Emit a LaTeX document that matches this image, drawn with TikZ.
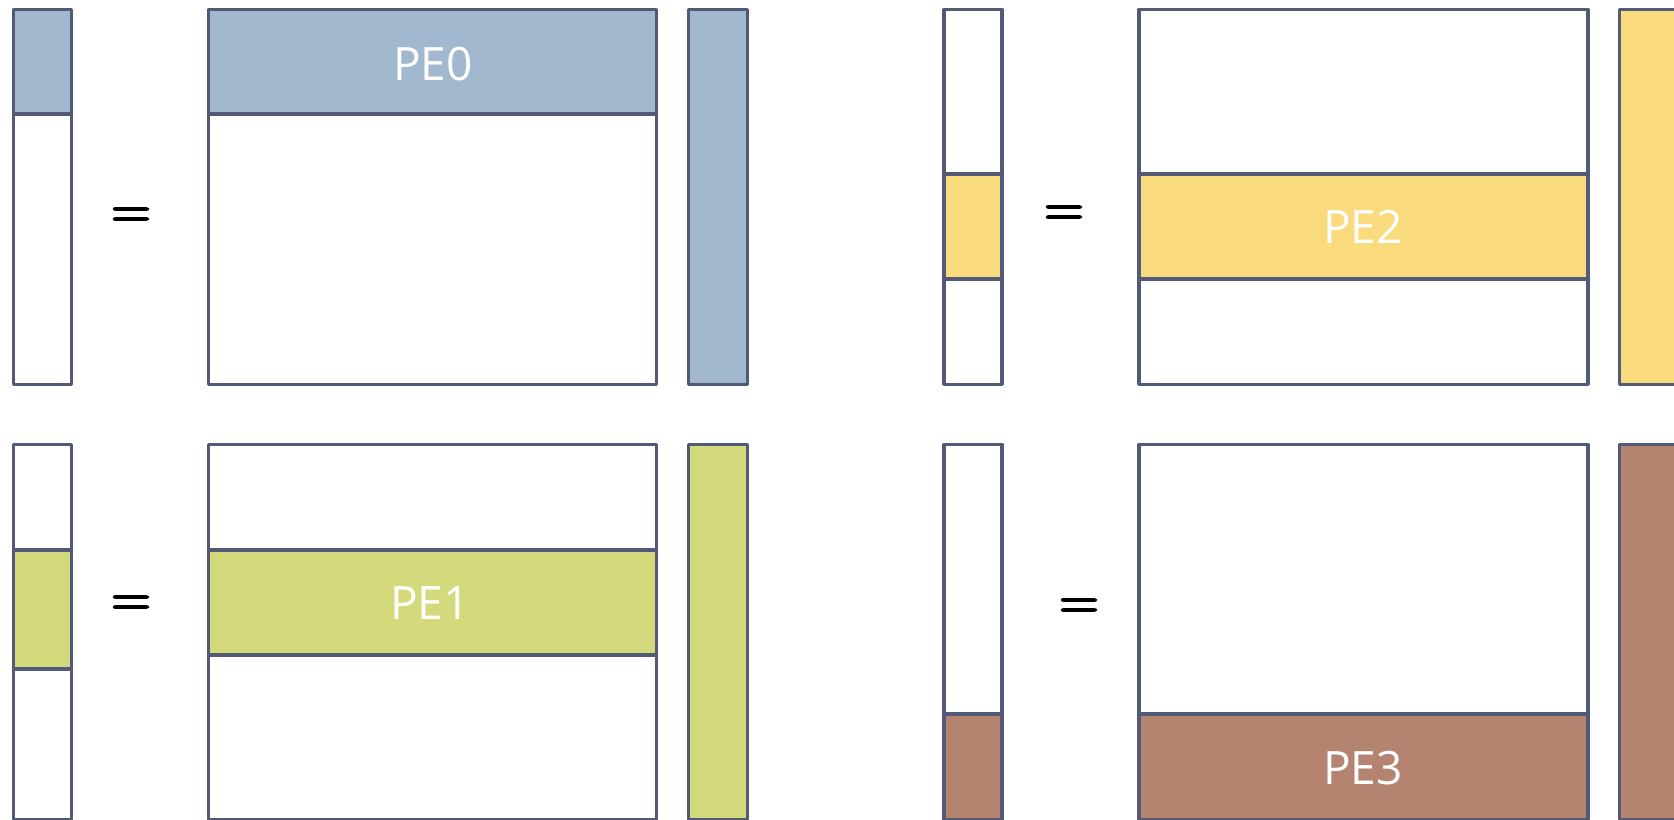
\documentclass[tikz,border=0pt]{standalone}
\usepackage{fontspec}
\newfontfamily\labelfont{Open Sans}
\newfontfamily\eqfont{lmroman10-regular.otf}[FakeBold=3]
\definecolor{edge}{HTML}{535A78}
\definecolor{peblue}{HTML}{A2B8CF}
\definecolor{peyellow}{HTML}{F9DA7C}
\definecolor{pegreen}{HTML}{D4DA7C}
\definecolor{pebrown}{HTML}{B58470}
\tikzset{
  frame/.style={draw=edge, line width=1.75pt, line join=round},
  lbl/.style={font=\labelfont\fontsize{23}{25}\selectfont, text=white,
    text depth=0pt, inner sep=0pt},
  eqsign/.style={font=\eqfont\fontsize{26}{28}\selectfont, inner sep=0pt, anchor=base}
}
\begin{document}
\begin{tikzpicture}[x=0.5pt, y=-0.5pt]
\useasboundingbox[fill=white] (0,0) rectangle (1674,819);

% ---------- PE0 (top left) ----------
\draw[frame, fill=white] (13.5,9.5) rectangle (71.5,384.3);
\draw[frame, fill=peblue] (13.5,9.5) rectangle (71.5,114);
\node[eqsign] (eq0) at (131,227) {=};
\draw[frame, fill=white] (208.5,9.5) rectangle (656.5,384.3);
\draw[frame, fill=peblue] (208.5,9.5) rectangle (656.5,114);
\node[lbl] (pe0) at (433,63.5) {PE0};
\draw[frame, fill=peblue] (688.5,9.5) rectangle (747.5,384.3);

% ---------- PE1 (bottom left) ----------
\draw[frame, fill=white] (13.5,444.5) rectangle (71.5,819.3);
\draw[frame, fill=pegreen] (13.5,550) rectangle (71.5,669);
\node[eqsign] (eq1) at (131,615) {=};
\draw[frame, fill=white] (208.5,444.5) rectangle (656.5,819.3);
\draw[frame, fill=pegreen] (208.5,550) rectangle (656.5,655);
\node[lbl] (pe1) at (430,603) {PE1};
\draw[frame, fill=pegreen] (688.5,444.5) rectangle (747.5,819.3);

% ---------- PE2 (top right) ----------
\draw[frame, fill=white] (944,9.5) rectangle (1002,384.3);
\draw[frame, fill=peyellow] (944,174) rectangle (1002,279);
\node[eqsign] (eq2) at (1064,225) {=};
\draw[frame, fill=white] (1139,9.5) rectangle (1588,384.3);
\draw[frame, fill=peyellow] (1139,174) rectangle (1588,279);
\node[lbl] (pe2) at (1363,226.5) {PE2};
\draw[frame, fill=peyellow] (1619.5,9.5) rectangle (1680,384.3);

% ---------- PE3 (bottom right) ----------
\draw[frame, fill=white] (944,444.5) rectangle (1002,819.3);
\draw[frame, fill=pebrown] (944,714) rectangle (1002,819.3);
\node[eqsign] (eq3) at (1079,618) {=};
\draw[frame, fill=white] (1139,444.5) rectangle (1588,819.3);
\draw[frame, fill=pebrown] (1139,714) rectangle (1588,819.3);
\node[lbl] (pe3) at (1363,767.5) {PE3};
\draw[frame, fill=pebrown] (1619.5,444.5) rectangle (1680,819.3);
\end{tikzpicture}
\end{document}
